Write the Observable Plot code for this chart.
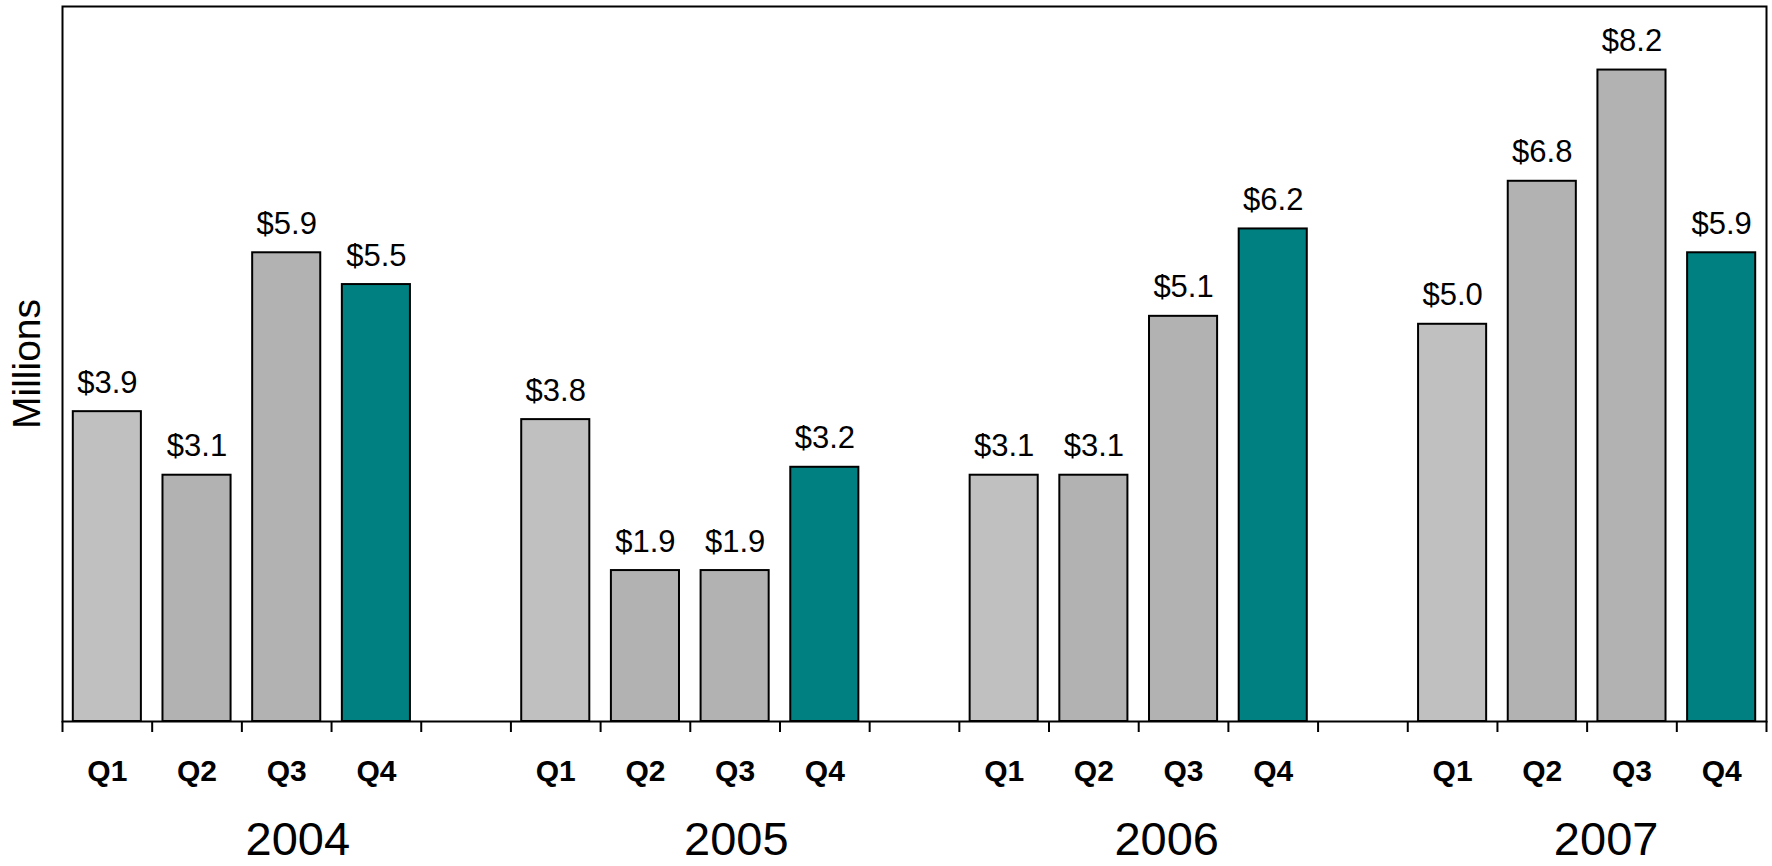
<!DOCTYPE html>
<html>
<head>
<meta charset="utf-8">
<script src="https://cdn.jsdelivr.net/npm/d3@7"></script>
<script src="https://cdn.jsdelivr.net/npm/@observablehq/plot@0.6"></script>
<style>
  html, body { margin: 0; padding: 0; background: #ffffff; }
  #chart svg { display: block; }
</style>
</head>
<body>
<div id="chart"></div>
<script>
// ---- data ----
const years = ["2004", "2005", "2006", "2007"];
const quarters = ["Q1", "Q2", "Q3", "Q4"];
const values2004 = [3.9, 3.1, 5.9, 5.5];
const values2005 = [3.8, 1.9, 1.9, 3.2];
const values2006 = [3.1, 3.1, 5.1, 6.2];
const values2007 = [5.0, 6.8, 8.2, 5.9];
const quarterColors = ["#C0C0C0", "#B2B2B2", "#B2B2B2", "#008080"];

// ---- build table ----
const series = [values2004, values2005, values2006, values2007];
const slotsPerYear = quarters.length + 1; // one empty slot between years
const totalSlots = years.length * slotsPerYear - 1;
const rows = [];
years.forEach((yr, g) => {
  series[g].forEach((v, q) => {
    rows.push({ year: yr, quarter: quarters[q], value: v, slot: g * slotsPerYear + q, color: quarterColors[q] });
  });
});
const yearRows = years.map((yr, g) => ({ year: yr, center: g * slotsPerYear + quarters.length / 2 }));
const yearNudge = [56, 46, 28, 19];

const font = "'Liberation Sans', Arial, Helvetica, sans-serif";

const chart = Plot.plot({
  width: 1772,
  height: 866,
  marginLeft: 62,
  marginRight: 6,
  marginTop: 6,
  marginBottom: 145,
  style: { fontFamily: font, background: "#ffffff", color: "#000" },
  x: { type: "linear", domain: [0, totalSlots] },
  y: { domain: [0, 9], axis: null },
  marks: [
    Plot.rectY(rows, {
      x1: d => d.slot,
      x2: d => d.slot + 1,
      y1: 0,
      y2: "value",
      fill: d => d.color,
      stroke: "#000",
      strokeWidth: 2,
      insetLeft: 10.8,
      insetRight: 10.8
    }),
    Plot.text(rows, {
      x: d => d.slot + 0.5,
      y: "value",
      text: d => "$" + d.value.toFixed(1),
      lineAnchor: "bottom",
      dy: -19,
      fontSize: 31,
      fill: "#000"
    }),
    Plot.frame({ stroke: "#000", strokeWidth: 2 }),
    Plot.axisX({
      ticks: d3.range(0, totalSlots + 1),
      tickSize: 11,
      tickFormat: () => "",
      strokeWidth: 2,
      stroke: "#000",
      label: null
    }),
    Plot.text(rows, {
      x: d => d.slot + 0.5,
      text: "quarter",
      frameAnchor: "bottom",
      dy: 59,
      fontSize: 30,
      fontWeight: "bold",
      fill: "#000"
    }),
    ...yearRows.map((d, i) => Plot.text([d], {
      x: "center",
      text: "year",
      frameAnchor: "bottom",
      dy: 133,
      dx: yearNudge[i],
      fontSize: 47,
      fill: "#000"
    })),
    Plot.text(["Millions"], {
      text: d => d,
      frameAnchor: "left",
      textAnchor: "middle",
      rotate: -90,
      dx: -35,
      fontSize: 39,
      fill: "#000"
    })
  ]
});

document.getElementById("chart").appendChild(chart);
</script>
</body>
</html>
